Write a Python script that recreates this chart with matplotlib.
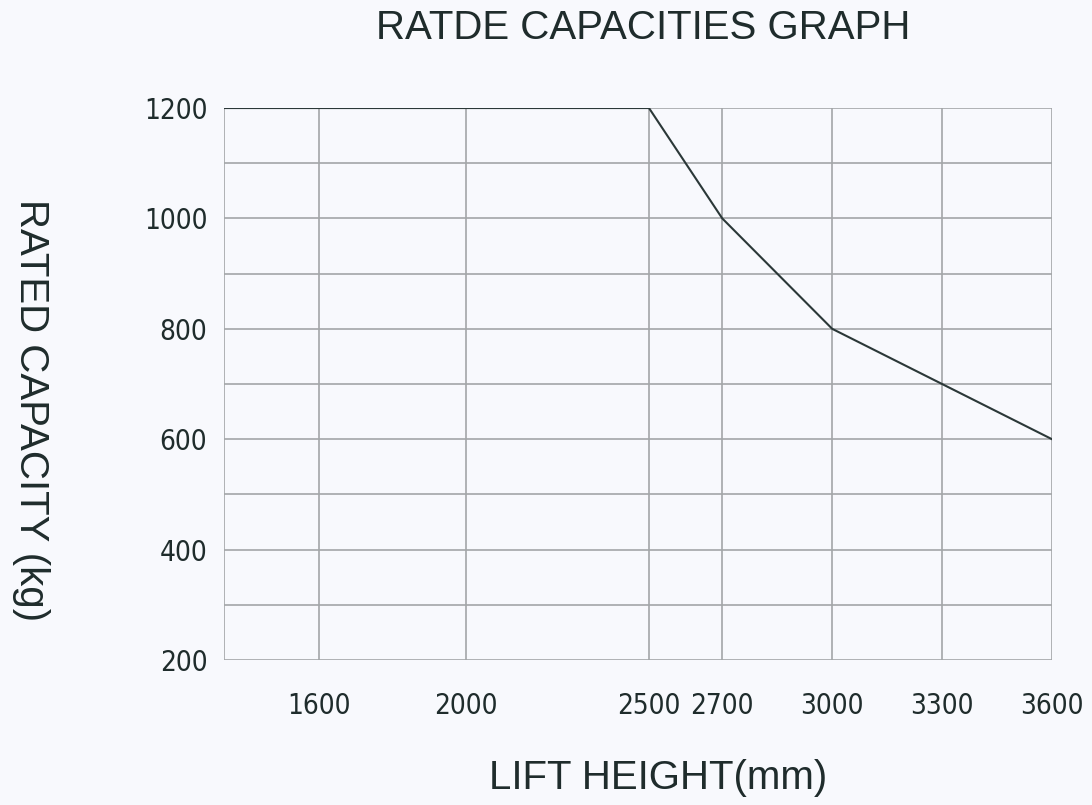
import matplotlib.pyplot as plt

# Rated capacity vs lift height
lift_height = [1340, 2500, 2700, 3000, 3300, 3600]
capacity = [1200, 1200, 1000, 800, 700, 600]

x_ticks = [1600, 2000, 2500, 2700, 3000, 3300, 3600]
y_ticks = [200, 400, 600, 800, 1000, 1200]
y_grid = [200, 300, 400, 500, 600, 700, 800, 900, 1000, 1100, 1200]

bg = "#f8f9fd"
ink = "#1f2c2c"
grid_col = "#a3a6a8"

fig = plt.figure(figsize=(10.92, 8.05), dpi=100, facecolor=bg)
ax = fig.add_axes([0.2051, 0.1801, 0.7583, 0.6857], facecolor=bg)

# grid lines
for yv in y_grid:
    ax.axhline(yv, color=grid_col, lw=1.2, zorder=1)
for xv in x_ticks:
    ax.axvline(xv, color=grid_col, lw=1.2, zorder=1)

ax.plot(lift_height, capacity, color="#2b3838", lw=1.5, zorder=3)

ax.set_xlim(1340, 3600)
ax.set_ylim(200, 1200)
for s in ax.spines.values():
    s.set_visible(False)
ax.axvline(1340, color=grid_col, lw=1.2, zorder=1)

ax.set_xticks(x_ticks)
ax.set_yticks(y_ticks)
ax.tick_params(length=0, colors=ink)
ax.tick_params(axis="x", pad=23)
ax.tick_params(axis="y", pad=12)
for lab in ax.get_xticklabels() + ax.get_yticklabels():
    lab.set_fontfamily(["DejaVu Sans"])
    lab.set_fontstretch("condensed")
    lab.set_fontsize(20)
    lab.set_color(ink)

fig.text(0.589, 0.965, "RATDE CAPACITIES GRAPH", ha="center", va="center",
         fontsize=29, family="Liberation Sans", color=ink)
fig.text(0.603, 0.033, "LIFT HEIGHT(mm)", ha="center", va="center",
         fontsize=29, family="Liberation Sans", color=ink)
fig.text(0.028, 0.491, "RATED CAPACITY (kg)", ha="center", va="center",
         rotation=-90, fontsize=29, family="Liberation Sans", color=ink)

fig.savefig("out.png", dpi=100, facecolor=bg)
